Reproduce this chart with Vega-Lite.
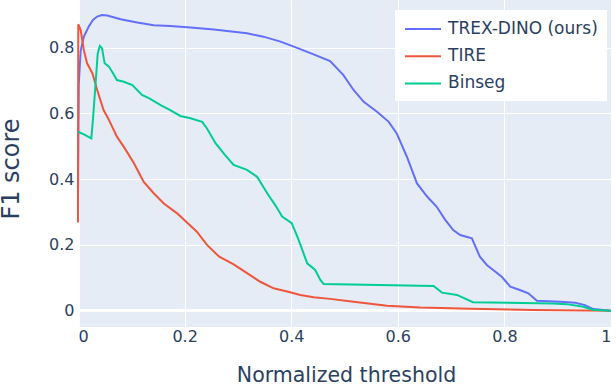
{
  "$schema": "https://vega.github.io/schema/vega-lite/v6.json",
  "width": 533,
  "height": 327,
  "autosize": {"type": "none"},
  "padding": {"left": 78, "top": 0, "right": 5, "bottom": 57},
  "background": "#ffffff",
  "config": {
    "view": {"fill": "#E5ECF6", "stroke": null},
    "font": "DejaVu Sans"
  },
  "data": {
    "values": [
      {"s": "TREX-DINO (ours)", "x": 0, "y": 0.336},
      {"s": "TREX-DINO (ours)", "x": 0.0015, "y": 0.69},
      {"s": "TREX-DINO (ours)", "x": 0.005, "y": 0.79},
      {"s": "TREX-DINO (ours)", "x": 0.011, "y": 0.833},
      {"s": "TREX-DINO (ours)", "x": 0.02, "y": 0.863},
      {"s": "TREX-DINO (ours)", "x": 0.028, "y": 0.884},
      {"s": "TREX-DINO (ours)", "x": 0.036, "y": 0.894},
      {"s": "TREX-DINO (ours)", "x": 0.045, "y": 0.899},
      {"s": "TREX-DINO (ours)", "x": 0.055, "y": 0.897},
      {"s": "TREX-DINO (ours)", "x": 0.08, "y": 0.886},
      {"s": "TREX-DINO (ours)", "x": 0.111, "y": 0.876},
      {"s": "TREX-DINO (ours)", "x": 0.142, "y": 0.868},
      {"s": "TREX-DINO (ours)", "x": 0.173, "y": 0.865},
      {"s": "TREX-DINO (ours)", "x": 0.211, "y": 0.861},
      {"s": "TREX-DINO (ours)", "x": 0.255, "y": 0.855},
      {"s": "TREX-DINO (ours)", "x": 0.317, "y": 0.843},
      {"s": "TREX-DINO (ours)", "x": 0.348, "y": 0.833},
      {"s": "TREX-DINO (ours)", "x": 0.38, "y": 0.818},
      {"s": "TREX-DINO (ours)", "x": 0.411, "y": 0.799},
      {"s": "TREX-DINO (ours)", "x": 0.442, "y": 0.779},
      {"s": "TREX-DINO (ours)", "x": 0.473, "y": 0.759},
      {"s": "TREX-DINO (ours)", "x": 0.498, "y": 0.716},
      {"s": "TREX-DINO (ours)", "x": 0.517, "y": 0.671},
      {"s": "TREX-DINO (ours)", "x": 0.536, "y": 0.635},
      {"s": "TREX-DINO (ours)", "x": 0.561, "y": 0.605},
      {"s": "TREX-DINO (ours)", "x": 0.583, "y": 0.574},
      {"s": "TREX-DINO (ours)", "x": 0.598, "y": 0.539},
      {"s": "TREX-DINO (ours)", "x": 0.617, "y": 0.468},
      {"s": "TREX-DINO (ours)", "x": 0.636, "y": 0.387},
      {"s": "TREX-DINO (ours)", "x": 0.655, "y": 0.347},
      {"s": "TREX-DINO (ours)", "x": 0.673, "y": 0.316},
      {"s": "TREX-DINO (ours)", "x": 0.689, "y": 0.276},
      {"s": "TREX-DINO (ours)", "x": 0.704, "y": 0.245},
      {"s": "TREX-DINO (ours)", "x": 0.717, "y": 0.23},
      {"s": "TREX-DINO (ours)", "x": 0.739, "y": 0.22},
      {"s": "TREX-DINO (ours)", "x": 0.754, "y": 0.164},
      {"s": "TREX-DINO (ours)", "x": 0.767, "y": 0.139},
      {"s": "TREX-DINO (ours)", "x": 0.779, "y": 0.124},
      {"s": "TREX-DINO (ours)", "x": 0.795, "y": 0.103},
      {"s": "TREX-DINO (ours)", "x": 0.811, "y": 0.073},
      {"s": "TREX-DINO (ours)", "x": 0.829, "y": 0.063},
      {"s": "TREX-DINO (ours)", "x": 0.845, "y": 0.053},
      {"s": "TREX-DINO (ours)", "x": 0.861, "y": 0.03},
      {"s": "TREX-DINO (ours)", "x": 0.904, "y": 0.027},
      {"s": "TREX-DINO (ours)", "x": 0.933, "y": 0.024},
      {"s": "TREX-DINO (ours)", "x": 0.951, "y": 0.017},
      {"s": "TREX-DINO (ours)", "x": 0.967, "y": 0.005},
      {"s": "TREX-DINO (ours)", "x": 1, "y": 0},
      {"s": "TIRE", "x": 0, "y": 0.268},
      {"s": "TIRE", "x": 0.0005, "y": 0.871},
      {"s": "TIRE", "x": 0.005, "y": 0.853},
      {"s": "TIRE", "x": 0.011, "y": 0.792},
      {"s": "TIRE", "x": 0.017, "y": 0.752},
      {"s": "TIRE", "x": 0.027, "y": 0.722},
      {"s": "TIRE", "x": 0.036, "y": 0.671},
      {"s": "TIRE", "x": 0.048, "y": 0.61},
      {"s": "TIRE", "x": 0.058, "y": 0.58},
      {"s": "TIRE", "x": 0.073, "y": 0.529},
      {"s": "TIRE", "x": 0.086, "y": 0.498},
      {"s": "TIRE", "x": 0.105, "y": 0.448},
      {"s": "TIRE", "x": 0.123, "y": 0.392},
      {"s": "TIRE", "x": 0.142, "y": 0.357},
      {"s": "TIRE", "x": 0.161, "y": 0.326},
      {"s": "TIRE", "x": 0.186, "y": 0.296},
      {"s": "TIRE", "x": 0.2, "y": 0.275},
      {"s": "TIRE", "x": 0.223, "y": 0.24},
      {"s": "TIRE", "x": 0.242, "y": 0.2},
      {"s": "TIRE", "x": 0.265, "y": 0.164},
      {"s": "TIRE", "x": 0.292, "y": 0.141},
      {"s": "TIRE", "x": 0.32, "y": 0.111},
      {"s": "TIRE", "x": 0.342, "y": 0.088},
      {"s": "TIRE", "x": 0.367, "y": 0.068},
      {"s": "TIRE", "x": 0.398, "y": 0.056},
      {"s": "TIRE", "x": 0.417, "y": 0.048},
      {"s": "TIRE", "x": 0.442, "y": 0.041},
      {"s": "TIRE", "x": 0.473, "y": 0.036},
      {"s": "TIRE", "x": 0.517, "y": 0.027},
      {"s": "TIRE", "x": 0.58, "y": 0.015},
      {"s": "TIRE", "x": 0.642, "y": 0.01},
      {"s": "TIRE", "x": 0.736, "y": 0.006},
      {"s": "TIRE", "x": 0.854, "y": 0.002},
      {"s": "TIRE", "x": 1, "y": 0},
      {"s": "Binseg", "x": 0, "y": 0.544},
      {"s": "Binseg", "x": 0.011, "y": 0.536},
      {"s": "Binseg", "x": 0.025, "y": 0.524},
      {"s": "Binseg", "x": 0.028, "y": 0.58},
      {"s": "Binseg", "x": 0.033, "y": 0.691},
      {"s": "Binseg", "x": 0.037, "y": 0.782},
      {"s": "Binseg", "x": 0.041, "y": 0.805},
      {"s": "Binseg", "x": 0.045, "y": 0.798},
      {"s": "Binseg", "x": 0.05, "y": 0.752},
      {"s": "Binseg", "x": 0.058, "y": 0.742},
      {"s": "Binseg", "x": 0.064, "y": 0.726},
      {"s": "Binseg", "x": 0.073, "y": 0.701},
      {"s": "Binseg", "x": 0.086, "y": 0.696},
      {"s": "Binseg", "x": 0.102, "y": 0.686},
      {"s": "Binseg", "x": 0.12, "y": 0.656},
      {"s": "Binseg", "x": 0.133, "y": 0.646},
      {"s": "Binseg", "x": 0.155, "y": 0.625},
      {"s": "Binseg", "x": 0.173, "y": 0.61},
      {"s": "Binseg", "x": 0.192, "y": 0.592},
      {"s": "Binseg", "x": 0.211, "y": 0.585},
      {"s": "Binseg", "x": 0.233, "y": 0.574},
      {"s": "Binseg", "x": 0.242, "y": 0.554},
      {"s": "Binseg", "x": 0.258, "y": 0.509},
      {"s": "Binseg", "x": 0.276, "y": 0.473},
      {"s": "Binseg", "x": 0.292, "y": 0.443},
      {"s": "Binseg", "x": 0.317, "y": 0.428},
      {"s": "Binseg", "x": 0.336, "y": 0.407},
      {"s": "Binseg", "x": 0.355, "y": 0.357},
      {"s": "Binseg", "x": 0.37, "y": 0.321},
      {"s": "Binseg", "x": 0.383, "y": 0.286},
      {"s": "Binseg", "x": 0.401, "y": 0.266},
      {"s": "Binseg", "x": 0.414, "y": 0.215},
      {"s": "Binseg", "x": 0.43, "y": 0.144},
      {"s": "Binseg", "x": 0.445, "y": 0.124},
      {"s": "Binseg", "x": 0.455, "y": 0.093},
      {"s": "Binseg", "x": 0.461, "y": 0.081},
      {"s": "Binseg", "x": 0.667, "y": 0.075},
      {"s": "Binseg", "x": 0.683, "y": 0.055},
      {"s": "Binseg", "x": 0.711, "y": 0.048},
      {"s": "Binseg", "x": 0.741, "y": 0.026},
      {"s": "Binseg", "x": 0.891, "y": 0.022},
      {"s": "Binseg", "x": 0.917, "y": 0.02},
      {"s": "Binseg", "x": 0.948, "y": 0.012},
      {"s": "Binseg", "x": 0.966, "y": 0.003},
      {"s": "Binseg", "x": 1, "y": 0}
    ]
  },
  "layer": [
    {
      "mark": {"type": "rule", "stroke": "#ffffff", "strokeWidth": 2.5},
      "encoding": {"y": {"datum": 0}}
    },
    {
      "mark": {"type": "rule", "stroke": "#ffffff", "strokeWidth": 2.5},
      "encoding": {"x": {"datum": 0}}
    },
    {
      "mark": {"type": "line", "strokeWidth": 2, "interpolate": "linear"},
      "encoding": {
        "x": {
          "field": "x", "type": "quantitative",
          "scale": {"domain": [0, 1], "nice": false, "zero": false},
          "axis": {
            "values": [0, 0.2, 0.4, 0.6, 0.8, 1],
            "format": ".1~f",
            "grid": true, "gridColor": "#ffffff", "gridWidth": 1,
            "domain": false, "ticks": false,
            "labelFontSize": 16, "labelColor": "#2a3f5f", "labelPadding": 1,
            "labelFont": "DejaVu Sans",
            "title": "Normalized threshold",
            "titleFont": "DejaVu Sans", "titleFontSize": 20.5, "titleFontWeight": "normal",
            "titleColor": "#2a3f5f", "titleBaseline": "alphabetic",
            "titleX": 268, "titleY": 54
          }
        },
        "y": {
          "field": "y", "type": "quantitative",
          "scale": {"domain": [-0.0495, 0.9444], "nice": false, "zero": false},
          "axis": {
            "values": [0, 0.2, 0.4, 0.6, 0.8],
            "format": ".1~f",
            "grid": true, "gridColor": "#ffffff", "gridWidth": 1,
            "domain": false, "ticks": false,
            "labelFontSize": 16, "labelColor": "#2a3f5f", "labelPadding": 4,
            "labelFont": "DejaVu Sans",
            "title": "F1 score",
            "titleFont": "DejaVu Sans", "titleFontSize": 24, "titleFontWeight": "normal",
            "titleColor": "#2a3f5f", "titleBaseline": "alphabetic", "titleAngle": -90,
            "titleX": -60, "titleY": 168.5
          }
        },
        "color": {
          "field": "s", "type": "nominal",
          "scale": {
            "domain": ["TREX-DINO (ours)", "TIRE", "Binseg"],
            "range": ["#636EFA", "#EF553B", "#00CC96"]
          },
          "legend": {
            "title": null,
            "orient": "none", "legendX": 317, "legendY": 10,
            "fillColor": "#ffffff", "padding": 9,
            "symbolType": "M-1,0H3", "symbolSize": 324, "symbolStrokeWidth": 2,
            "labelFont": "DejaVu Sans", "labelFontSize": 17, "labelColor": "#2a3f5f",
            "labelOffset": 24, "rowPadding": 9.2, "labelLimit": 300
          }
        }
      }
    }
  ]
}
